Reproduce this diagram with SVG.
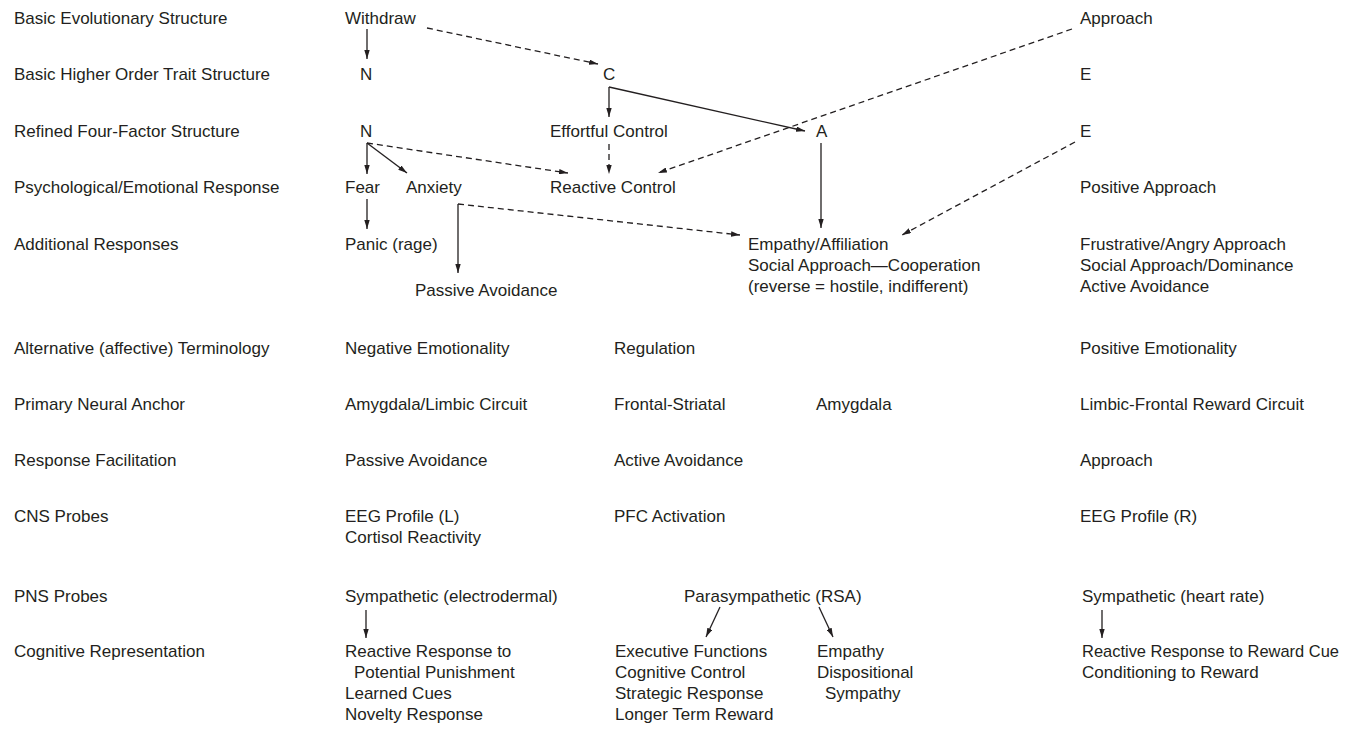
<svg xmlns="http://www.w3.org/2000/svg" width="1345" height="733" viewBox="0 0 1345 733">
<defs>
<style>
text{font-family:"Liberation Sans",Arial,sans-serif;font-size:17px;fill:#231f20}
.ln{fill:none;stroke:#231f20;stroke-width:1.3}
.ds{stroke-dasharray:6 4}
</style>
<marker id="ah" viewBox="0 0 10 6" refX="10" refY="3" markerWidth="9" markerHeight="5.4" markerUnits="userSpaceOnUse" orient="auto">
<path d="M0,0 L10,3 L0,6 z" fill="#231f20"/>
</marker>
</defs>
<rect width="1345" height="733" fill="#fff"/>
<g id="row-labels">
<text x="14" y="24">Basic Evolutionary Structure</text>
<text x="14" y="80">Basic Higher Order Trait Structure</text>
<text x="14" y="137">Refined Four-Factor Structure</text>
<text x="14" y="193">Psychological/Emotional Response</text>
<text x="14" y="250">Additional Responses</text>
<text x="14" y="354">Alternative (affective) Terminology</text>
<text x="14" y="410">Primary Neural Anchor</text>
<text x="14" y="466">Response Facilitation</text>
<text x="14" y="522">CNS Probes</text>
<text x="14" y="602">PNS Probes</text>
<text x="14" y="657">Cognitive Representation</text>
</g>
<g id="withdraw"><text x="345" y="24">Withdraw</text></g>
<g id="approach"><text x="1080" y="24">Approach</text></g>
<g id="n-higher"><text x="360" y="80">N</text></g>
<g id="c-higher"><text x="603" y="80">C</text></g>
<g id="e-higher"><text x="1080" y="80">E</text></g>
<g id="n-refined"><text x="360" y="137">N</text></g>
<g id="effortful-control"><text x="550" y="137">Effortful Control</text></g>
<g id="a-refined"><text x="816" y="137">A</text></g>
<g id="e-refined"><text x="1080" y="137">E</text></g>
<g id="fear"><text x="345" y="193">Fear</text></g>
<g id="anxiety"><text x="406" y="193">Anxiety</text></g>
<g id="reactive-control"><text x="550" y="193">Reactive Control</text></g>
<g id="positive-approach"><text x="1080" y="193">Positive Approach</text></g>
<g id="panic"><text x="345" y="250">Panic (rage)</text></g>
<g id="passive-avoidance-add"><text x="415" y="296">Passive Avoidance</text></g>
<g id="empathy-affiliation">
<text x="748" y="250">Empathy/Affiliation</text>
<text x="748" y="271">Social Approach—Cooperation</text>
<text x="748" y="292">(reverse = hostile, indifferent)</text>
</g>
<g id="frustrative">
<text x="1080" y="250">Frustrative/Angry Approach</text>
<text x="1080" y="271">Social Approach/Dominance</text>
<text x="1080" y="292">Active Avoidance</text>
</g>
<g id="terminology">
<text x="345" y="354">Negative Emotionality</text>
<text x="614" y="354">Regulation</text>
<text x="1080" y="354">Positive Emotionality</text>
</g>
<g id="neural">
<text x="345" y="410">Amygdala/Limbic Circuit</text>
<text x="614" y="410">Frontal-Striatal</text>
<text x="816" y="410">Amygdala</text>
<text x="1080" y="410">Limbic-Frontal Reward Circuit</text>
</g>
<g id="facilitation">
<text x="345" y="466">Passive Avoidance</text>
<text x="614" y="466">Active Avoidance</text>
<text x="1080" y="466">Approach</text>
</g>
<g id="cns">
<text x="345" y="522">EEG Profile (L)</text>
<text x="345" y="543">Cortisol Reactivity</text>
<text x="614" y="522">PFC Activation</text>
<text x="1080" y="522">EEG Profile (R)</text>
</g>
<g id="sympathetic-electrodermal"><text x="345" y="602">Sympathetic (electrodermal)</text></g>
<g id="parasympathetic"><text x="684" y="602">Parasympathetic (RSA)</text></g>
<g id="sympathetic-heart"><text x="1082" y="602">Sympathetic (heart rate)</text></g>
<g id="cog-punishment">
<text x="345" y="657">Reactive Response to</text>
<text x="354" y="678">Potential Punishment</text>
<text x="345" y="699">Learned Cues</text>
<text x="345" y="720">Novelty Response</text>
</g>
<g id="cog-executive">
<text x="615" y="657">Executive Functions</text>
<text x="615" y="678">Cognitive Control</text>
<text x="615" y="699">Strategic Response</text>
<text x="615" y="720">Longer Term Reward</text>
</g>
<g id="cog-empathy">
<text x="817" y="657">Empathy</text>
<text x="817" y="678">Dispositional</text>
<text x="825" y="699">Sympathy</text>
</g>
<g id="cog-reward">
<text x="1082" y="657" textLength="257" lengthAdjust="spacingAndGlyphs">Reactive Response to Reward Cue</text>
<text x="1082" y="678">Conditioning to Reward</text>
</g>
<g id="connectors">
<path class="ln" d="M367,29 L367,59" marker-end="url(#ah)"/>
<path class="ln ds" d="M427,28 L598,64" marker-end="url(#ah)"/>
<path class="ln" d="M609,87 L609,117" marker-end="url(#ah)"/>
<path class="ln" d="M609,87 L805,131" marker-end="url(#ah)"/>
<path class="ln ds" d="M609,144 L609,174" marker-end="url(#ah)"/>
<path class="ln" d="M367,143 L367,174" marker-end="url(#ah)"/>
<path class="ln" d="M367,143 L407,173" marker-end="url(#ah)"/>
<path class="ln ds" d="M367,143 L568,173" marker-end="url(#ah)"/>
<path class="ln ds" d="M1072,29 L658,173" marker-end="url(#ah)"/>
<path class="ln" d="M367,199 L367,229" marker-end="url(#ah)"/>
<path class="ln" d="M458,204 L458,273" marker-end="url(#ah)"/>
<path class="ln ds" d="M458,204 L740,235" marker-end="url(#ah)"/>
<path class="ln" d="M821,143 L821,228" marker-end="url(#ah)"/>
<path class="ln ds" d="M1075,142 L902,235" marker-end="url(#ah)"/>
<path class="ln" d="M366,610 L366,638" marker-end="url(#ah)"/>
<path class="ln" d="M720,607 L706,637" marker-end="url(#ah)"/>
<path class="ln" d="M819,607 L833,637" marker-end="url(#ah)"/>
<path class="ln" d="M1102,610 L1102,638" marker-end="url(#ah)"/>
</g>
</svg>
